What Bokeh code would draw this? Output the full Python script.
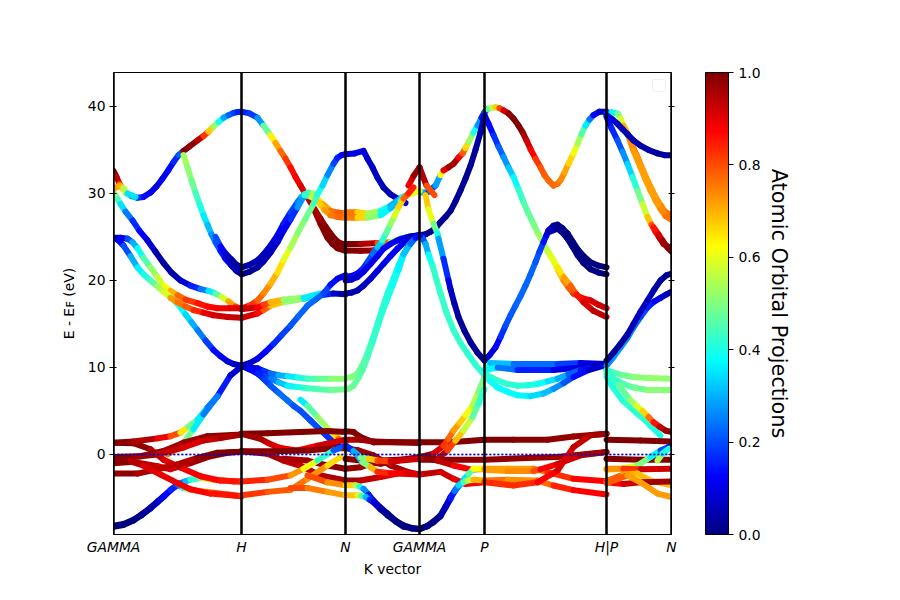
from bokeh.embed import file_html
from bokeh.models import (BoxAnnotation, ColorBar, ColumnDataSource, FixedTicker,
                          LinearAxis, LinearColorMapper, Range1d, Span)
from bokeh.plotting import figure
from bokeh.resources import INLINE

# ---- axis values -------------------------------------------------------
k_ticks = [0, 128, 232, 306, 371, 493, 558]
k_labels = ["GAMMA", "H", "N", "GAMMA", "P", "H|P", "N"]
e_ticks = [0, 10, 20, 30, 40]
cbar_ticks = [0.0, 0.2, 0.4, 0.6, 0.8, 1.0]

# ---- GAMMA -> H --------------------------------------------------------
gh01_k = [0, 3, 6, 9, 13, 18, 24, 30, 37, 43, 49, 55, 60, 65, 70]
gh01_e = [32.6, 31.9, 31.1, 30.5, 30.0, 29.7, 29.5, 29.6, 30.1, 30.8, 31.7, 32.7, 33.6, 34.4, 34.9]
gh01_p = [1.0, 0.97, 0.9, 0.75, 0.5, 0.3, 0.2, 0.15, 0.12, 0.1, 0.1, 0.12, 0.15, 0.18, 0.25]
gh02_k = [70, 76, 84, 90, 95, 100, 105, 110, 115, 120, 124, 128]
gh02_e = [34.9, 35.4, 36.1, 36.6, 37.1, 37.7, 38.2, 38.7, 39.0, 39.25, 39.35, 39.4]
gh02_p = [1.0, 1.0, 0.98, 0.9, 0.75, 0.6, 0.45, 0.33, 0.25, 0.2, 0.17, 0.15]
gh03_k = [1, 4, 7, 12, 19, 26, 34, 42, 50, 58, 67, 77, 87, 95, 102, 108, 115, 122, 128]
gh03_e = [30.0, 29.4, 28.8, 27.9, 26.9, 25.7, 24.6, 23.3, 22.0, 20.9, 20.0, 19.4, 19.0, 18.8, 18.5, 18.1, 17.6, 17.0, 16.7]
gh03_p = [0.55, 0.48, 0.4, 0.3, 0.2, 0.14, 0.1, 0.06, 0.03, 0.03, 0.05, 0.12, 0.2, 0.3, 0.42, 0.52, 0.65, 0.78, 0.85]
gh04_k = [1, 6, 10, 14, 22]
gh04_e = [30.6, 30.9, 30.6, 30.0, 29.6]
gh04_p = [0.7, 0.75, 0.65, 0.45, 0.25]
gh05_k = [70, 74, 78, 82, 86, 90, 94, 98, 102, 107, 112, 118, 123, 127]
gh05_e = [34.4, 33.0, 31.5, 30.1, 28.8, 27.5, 26.4, 25.3, 24.4, 23.4, 22.5, 21.7, 21.1, 20.8]
gh05_p = [0.55, 0.53, 0.5, 0.46, 0.42, 0.38, 0.34, 0.29, 0.25, 0.18, 0.12, 0.08, 0.05, 0.05]
gh06_k = [102, 107, 112, 118, 123, 128]
gh06_e = [25.0, 23.9, 23.1, 22.4, 21.8, 21.5]
gh06_p = [0.25, 0.15, 0.1, 0.05, 0.03, 0.03]
gh07_k = [1, 7, 14, 19, 24, 30, 37, 44, 50, 57, 64, 72, 84, 94, 104, 116, 128]
gh07_e = [24.9, 24.9, 24.8, 24.4, 23.7, 22.6, 21.5, 20.4, 19.4, 18.8, 18.3, 17.8, 17.4, 17.0, 16.8, 16.8, 16.8]
gh07_p = [0.05, 0.08, 0.15, 0.25, 0.35, 0.42, 0.5, 0.55, 0.6, 0.66, 0.75, 0.8, 0.85, 0.87, 0.88, 0.9, 0.9]
gh08_k = [1, 5, 10, 17, 24, 30, 37, 44, 50, 57, 62, 67, 72, 78, 84, 92, 100, 107, 114, 120, 128]
gh08_e = [24.9, 24.6, 24.0, 22.8, 21.5, 20.7, 20.0, 19.3, 18.7, 18.1, 17.5, 16.9, 16.1, 15.2, 14.3, 13.1, 12.0, 11.3, 10.7, 10.4, 10.2]
gh08_p = [0.05, 0.1, 0.15, 0.25, 0.35, 0.38, 0.42, 0.5, 0.58, 0.6, 0.5, 0.4, 0.36, 0.32, 0.28, 0.22, 0.15, 0.12, 0.1, 0.07, 0.05]
gh09_k = [57, 64, 72, 80, 90, 100, 114, 128]
gh09_e = [18.0, 17.5, 17.0, 16.6, 16.3, 16.0, 15.8, 15.7]
gh09_p = [0.7, 0.75, 0.78, 0.8, 0.88, 0.92, 0.93, 0.93]
gh10_k = [0, 10, 20, 28, 37, 44, 50, 58, 67, 72, 77, 87, 94, 100, 110, 120, 128]
gh10_e = [-8.2, -8.0, -7.5, -6.9, -6.1, -5.4, -4.8, -4.0, -3.3, -3.1, -2.9, -2.7, -2.8, -2.9, -3.0, -3.1, -3.1]
gh10_p = [0.0, 0.0, 0.0, 0.02, 0.03, 0.06, 0.1, 0.15, 0.2, 0.27, 0.35, 0.5, 0.6, 0.7, 0.75, 0.8, 0.82]
gh11_k = [0, 10, 20, 28, 37, 44, 50, 57, 64, 69, 74, 80, 87, 94, 100, 114, 128]
gh11_e = [-8.3, -8.1, -7.6, -7.0, -6.2, -5.5, -4.9, -4.1, -3.45, -3.8, -4.0, -4.1, -4.2, -4.3, -4.4, -4.6, -4.8]
gh11_p = [0.0, 0.0, 0.0, 0.02, 0.03, 0.06, 0.1, 0.14, 0.18, 0.33, 0.5, 0.58, 0.65, 0.72, 0.78, 0.82, 0.85]
gh12_k = [0, 20, 37, 50, 67, 87, 107, 128]
gh12_e = [1.35, 1.3, 0.6, -0.6, -1.5, -2.5, -3.0, -3.1]
gh12_p = [1.0, 1.0, 0.98, 0.92, 0.9, 0.88, 0.87, 0.85]
gh13_k = [0, 20, 44, 57, 67, 75, 84, 94, 104, 117, 128]
gh13_e = [1.35, 1.5, 1.85, 2.1, 2.5, 3.2, 4.0, 5.4, 6.7, 9.1, 10.1]
gh13_p = [1.0, 0.98, 0.93, 0.85, 0.75, 0.55, 0.42, 0.3, 0.2, 0.1, 0.05]
gh14_k = [54, 62, 70, 80, 90, 104]
gh14_e = [0.0, 0.55, 1.35, 2.9, 4.6, 6.7]
gh14_p = [0.8, 0.7, 0.55, 0.42, 0.3, 0.2]
gh15_k = [0, 27, 50, 70, 94, 128]
gh15_e = [-0.3, -0.2, 0.4, 1.35, 2.1, 2.3]
gh15_p = [1.0, 1.0, 0.97, 0.97, 0.98, 1.0]
gh16_k = [0, 20, 44, 70, 90, 107, 128]
gh16_e = [-0.6, -0.3, 0.0, 0.8, 1.6, 1.9, 2.3]
gh16_p = [1.0, 0.98, 0.96, 0.9, 0.92, 0.95, 0.97]
gh17_k = [0, 20, 44, 57, 77, 97, 114, 128]
gh17_e = [-1.0, -0.85, -1.35, -1.7, -1.0, -0.2, 0.2, 0.3]
gh17_p = [1.0, 0.97, 0.93, 0.9, 0.95, 1.0, 1.0, 1.0]
gh18_k = [0, 24, 44, 64, 84, 104, 128]
gh18_e = [-2.2, -2.2, -1.7, -1.15, -0.4, 0.2, 0.3]
gh18_p = [1.0, 0.97, 0.95, 0.93, 0.98, 1.0, 1.0]
gh19_k = [0, 17, 30, 47, 64, 77, 97, 128]
gh19_e = [-0.6, -0.8, -1.3, -2.3, -3.3, -4.0, -4.5, -4.8]
gh19_p = [1.0, 0.98, 0.92, 0.9, 0.9, 0.88, 0.87, 0.85]

# ---- H -> N ------------------------------------------------------------
hn01_k = [128, 136, 144, 150, 157, 162, 167, 172, 177, 182, 187, 192, 197, 202, 207, 212, 217, 221, 225, 229, 232]
hn01_e = [39.4, 39.2, 38.7, 37.8, 36.7, 35.8, 34.9, 34.0, 33.0, 31.9, 30.9, 29.9, 29.0, 28.0, 27.1, 26.2, 25.4, 24.8, 24.4, 24.2, 24.1]
hn01_p = [0.15, 0.17, 0.2, 0.35, 0.6, 0.68, 0.75, 0.8, 0.85, 0.88, 0.9, 0.92, 0.93, 0.95, 0.97, 0.99, 1.0, 1.0, 1.0, 1.0, 1.0]
hn02_k = [200, 207, 214, 219, 224, 232]
hn02_e = [28.3, 26.5, 24.9, 24.2, 23.7, 23.4]
hn02_p = [0.95, 0.98, 1.0, 1.0, 1.0, 1.0]
hn03_k = [128, 136, 144, 150, 157, 164, 170, 177, 184, 188, 191, 195, 199, 204, 209, 217, 224, 232]
hn03_e = [21.5, 21.8, 22.3, 23.0, 24.0, 25.2, 26.5, 27.8, 29.0, 29.6, 29.9, 30.1, 30.0, 29.4, 28.8, 28.0, 27.8, 27.7]
hn03_p = [0.03, 0.04, 0.05, 0.06, 0.08, 0.1, 0.13, 0.17, 0.22, 0.28, 0.35, 0.42, 0.5, 0.6, 0.68, 0.75, 0.78, 0.8]
hn04_k = [128, 136, 144, 150, 157, 164, 170, 177, 184, 191, 198, 205, 211, 217, 224, 232]
hn04_e = [20.7, 21.0, 21.5, 22.2, 23.2, 24.4, 25.7, 27.0, 28.4, 29.8, 29.6, 29.0, 28.1, 27.5, 27.3, 27.2]
hn04_p = [0.0, 0.01, 0.03, 0.04, 0.06, 0.08, 0.1, 0.14, 0.2, 0.35, 0.5, 0.65, 0.7, 0.75, 0.77, 0.78]
hn05_k = [128, 136, 144, 150, 157, 164, 170, 177, 184, 192, 200, 204, 209, 214, 220, 224, 228, 232]
hn05_e = [16.8, 17.1, 17.7, 18.5, 19.6, 20.9, 22.3, 23.8, 25.4, 27.1, 28.8, 29.9, 30.9, 32.1, 33.4, 34.1, 34.4, 34.5]
hn05_p = [0.9, 0.85, 0.8, 0.76, 0.72, 0.68, 0.63, 0.57, 0.52, 0.5, 0.47, 0.42, 0.38, 0.3, 0.22, 0.17, 0.14, 0.12]
hn06_k = [128, 144, 150, 157, 170, 190, 207, 220, 232]
hn06_e = [15.7, 16.2, 16.6, 17.1, 17.5, 17.9, 18.3, 18.5, 18.4]
hn06_p = [0.93, 0.9, 0.83, 0.75, 0.62, 0.42, 0.25, 0.08, 0.05]
hn07_k = [128, 144, 150, 157, 170, 190, 207]
hn07_e = [16.7, 16.9, 17.2, 17.5, 17.8, 18.0, 18.5]
hn07_p = [0.95, 0.9, 0.85, 0.78, 0.62, 0.42, 0.3]
hn08_k = [128, 136, 144, 152, 160, 168, 177, 185, 194, 202, 210, 217, 224, 228, 232]
hn08_e = [10.2, 10.5, 11.0, 11.8, 12.7, 13.7, 14.8, 15.9, 17.1, 17.8, 18.5, 19.5, 20.2, 20.4, 20.6]
hn08_p = [0.05, 0.07, 0.1, 0.12, 0.15, 0.18, 0.2, 0.22, 0.23, 0.23, 0.22, 0.17, 0.12, 0.11, 0.1]
hn09_k = [128, 136, 144, 150, 157, 165, 174, 184, 194, 205, 217, 232]
hn09_e = [10.2, 10.0, 9.9, 9.6, 9.3, 9.1, 9.0, 8.85, 8.7, 8.7, 8.7, 8.7]
hn09_p = [0.05, 0.07, 0.1, 0.15, 0.2, 0.27, 0.33, 0.38, 0.43, 0.46, 0.5, 0.52]
hn10_k = [128, 136, 144, 150, 157, 165, 174, 184, 194, 205, 217, 232]
hn10_e = [10.2, 9.8, 9.4, 9.0, 8.7, 8.3, 7.9, 7.75, 7.6, 7.5, 7.4, 7.5]
hn10_p = [0.05, 0.08, 0.12, 0.17, 0.22, 0.28, 0.35, 0.39, 0.43, 0.45, 0.47, 0.5]
hn11_k = [128, 136, 144, 150, 157, 165, 174, 180, 187, 197, 207, 220, 232]
hn11_e = [10.2, 9.8, 9.3, 8.7, 7.9, 7.1, 6.2, 5.6, 5.0, 3.9, 2.8, 1.4, 1.0]
hn11_p = [0.05, 0.1, 0.15, 0.17, 0.2, 0.22, 0.25, 0.22, 0.2, 0.2, 0.2, 0.15, 0.1]
hn12_k = [187, 194, 204, 214, 220, 225, 232]
hn12_e = [6.3, 5.6, 4.3, 3.0, 2.4, 1.8, 1.3]
hn12_p = [0.3, 0.42, 0.5, 0.55, 0.62, 0.7, 0.85]
hn13_k = [128, 154, 187, 214, 232]
hn13_e = [2.37, 2.45, 2.57, 2.7, 2.57]
hn13_p = [1.0, 1.0, 1.0, 1.0, 1.0]
hn14_k = [128, 147, 155, 164, 174, 184, 204, 232]
hn14_e = [2.37, 1.8, 1.3, 0.85, 0.6, 0.46, 1.0, 1.7]
hn14_p = [0.98, 0.97, 0.94, 0.9, 0.89, 0.88, 0.9, 0.95]
hn15_k = [128, 160, 194, 220, 232]
hn15_e = [0.37, 0.37, 0.46, 0.7, 0.7]
hn15_p = [1.0, 1.0, 1.0, 0.98, 1.0]
hn16_k = [128, 154, 170, 187, 207, 232]
hn16_e = [0.37, 0.07, -0.7, -1.3, -2.4, -3.0]
hn16_p = [1.0, 0.98, 0.95, 0.93, 0.95, 0.97]
hn17_k = [170, 194, 214, 232]
hn17_e = [-0.5, -0.7, -1.27, -1.65]
hn17_p = [0.95, 0.97, 0.98, 1.0]
hn18_k = [128, 154, 177, 190, 204, 220, 232]
hn18_e = [-3.1, -2.9, -2.4, -1.65, -0.7, 0.46, 1.0]
hn18_p = [0.85, 0.83, 0.78, 0.68, 0.55, 0.3, 0.12]
hn19_k = [128, 154, 177, 194, 214, 227]
hn19_e = [-4.7, -4.3, -4.05, -2.8, -1.27, -0.3]
hn19_p = [0.85, 0.8, 0.78, 0.75, 0.72, 0.6]
hn20_k = [177, 194, 214, 232]
hn20_e = [-3.85, -3.85, -4.3, -4.7]
hn20_p = [0.83, 0.78, 0.73, 0.72]
hn21_k = [194, 214, 232]
hn21_e = [-2.4, -3.2, -3.55]
hn21_p = [0.85, 0.75, 0.72]

# ---- N -> GAMMA --------------------------------------------------------
ng01_k = [232, 241, 250, 254, 259, 264, 270, 277, 284, 292]
ng01_e = [34.5, 34.6, 34.9, 34.0, 33.0, 31.8, 30.7, 29.9, 29.4, 28.9]
ng01_p = [0.12, 0.11, 0.1, 0.08, 0.07, 0.06, 0.05, 0.05, 0.05, 0.12]
ng02_k = [295, 300, 306]
ng02_e = [30.9, 32.0, 33.0]
ng02_p = [0.85, 0.95, 1.0]
ng03_k = [232, 244, 254, 267, 277, 289, 299, 306]
ng03_e = [27.85, 27.85, 27.7, 28.0, 28.6, 29.6, 30.15, 30.3]
ng03_p = [0.8, 0.72, 0.62, 0.45, 0.33, 0.28, 0.5, 0.7]
ng04_k = [232, 244, 254, 267, 277, 287, 294, 306]
ng04_e = [27.2, 27.2, 27.2, 27.5, 28.3, 29.2, 29.8, 30.3]
ng04_p = [0.78, 0.72, 0.62, 0.42, 0.32, 0.3, 0.5, 0.7]
ng05_k = [232, 247, 264, 277, 287, 297, 306]
ng05_e = [24.2, 24.2, 24.3, 24.4, 24.8, 25.05, 25.2]
ng05_p = [1.0, 1.0, 0.9, 0.7, 0.4, 0.12, 0.03]
ng06_k = [232, 247, 260, 269, 277]
ng06_e = [23.45, 23.4, 23.45, 23.9, 24.2]
ng06_p = [1.0, 1.0, 0.97, 0.85, 0.7]
ng07_k = [232, 238, 244, 249, 254, 259, 264, 269, 273, 277, 281, 285, 290, 295, 300]
ng07_e = [20.4, 20.5, 20.8, 21.3, 22.1, 23.0, 23.8, 24.6, 25.5, 26.5, 27.4, 28.4, 29.4, 30.0, 30.7]
ng07_p = [0.1, 0.11, 0.12, 0.15, 0.18, 0.22, 0.25, 0.4, 0.45, 0.5, 0.56, 0.62, 0.72, 0.85, 0.85]
ng08_k = [232, 238, 244, 250, 257, 264, 270, 277, 284, 290, 295, 300, 306]
ng08_e = [18.5, 18.6, 18.85, 19.4, 20.2, 21.1, 21.9, 22.8, 23.65, 24.3, 24.8, 25.05, 25.2]
ng08_p = [0.05, 0.05, 0.05, 0.06, 0.08, 0.09, 0.1, 0.11, 0.12, 0.11, 0.1, 0.06, 0.03]
ng09_k = [232, 238, 244, 250, 257, 264, 270, 277, 284, 295, 306]
ng09_e = [20.0, 20.1, 20.4, 21.0, 21.9, 22.8, 23.65, 24.2, 24.6, 25.0, 25.2]
ng09_p = [0.08, 0.08, 0.08, 0.09, 0.1, 0.11, 0.12, 0.12, 0.12, 0.08, 0.05]
ng10_k = [232, 238, 244, 249, 254, 259, 264, 269, 274, 280, 285, 290, 295, 300, 306]
ng10_e = [8.78, 8.9, 9.3, 10.3, 11.6, 13.2, 15.0, 16.8, 18.5, 20.2, 21.7, 23.0, 24.0, 24.7, 25.2]
ng10_p = [0.52, 0.51, 0.5, 0.47, 0.45, 0.44, 0.43, 0.42, 0.42, 0.4, 0.38, 0.35, 0.3, 0.2, 0.1]
ng11_k = [232, 236, 240, 245, 249, 254, 259, 264, 269, 274, 279, 285, 290, 297, 302, 306]
ng11_e = [7.4, 7.6, 7.9, 8.8, 9.7, 11.2, 12.9, 14.7, 16.4, 17.9, 19.4, 21.2, 23.0, 24.2, 24.9, 25.2]
ng11_p = [0.5, 0.49, 0.48, 0.47, 0.47, 0.45, 0.43, 0.42, 0.42, 0.41, 0.4, 0.38, 0.35, 0.28, 0.18, 0.1]
ng12_k = [232, 240, 247, 260, 306]
ng12_e = [2.68, 2.57, 2.0, 1.4, 1.4]
ng12_p = [1.0, 1.0, 1.0, 1.0, 0.99]
ng13_k = [232, 247, 260, 306]
ng13_e = [1.7, 1.7, 1.5, 1.33]
ng13_p = [0.95, 0.97, 0.98, 1.0]
ng14_k = [232, 244, 260, 277, 294, 306]
ng14_e = [0.7, 0.5, -0.1, -1.27, -2.0, -2.3]
ng14_p = [1.0, 0.98, 0.97, 0.97, 0.95, 0.95]
ng15_k = [232, 247, 267, 284, 306]
ng15_e = [-0.5, -0.7, -1.07, -0.7, -0.3]
ng15_p = [1.0, 0.98, 0.97, 0.97, 1.0]
ng16_k = [232, 247, 267, 306]
ng16_e = [-1.65, -1.46, -0.7, -0.5]
ng16_p = [1.0, 0.97, 0.98, 1.0]
ng17_k = [232, 247, 267, 284, 306]
ng17_e = [-3.0, -3.0, -2.6, -2.2, -2.3]
ng17_p = [1.0, 0.95, 0.92, 0.9, 0.92]
ng18_k = [232, 237, 244, 249, 257, 264, 277, 294, 306]
ng18_e = [1.0, 0.65, -0.1, -0.9, -1.46, -2.0, -2.15, -2.15, -2.3]
ng18_p = [0.12, 0.15, 0.25, 0.4, 0.6, 0.8, 0.88, 0.9, 0.92]
ng19_k = [232, 240, 247, 255, 264, 277, 306]
ng19_e = [1.0, 0.4, -0.3, -0.5, -0.7, -0.8, -0.5]
ng19_p = [0.12, 0.2, 0.4, 0.6, 0.75, 0.88, 0.97]
ng20_k = [232, 242, 246, 250, 255, 260, 267, 274, 282, 290, 298, 306]
ng20_e = [-3.55, -3.55, -3.7, -3.95, -4.6, -5.3, -6.1, -6.8, -7.6, -8.15, -8.45, -8.55]
ng20_p = [0.72, 0.62, 0.48, 0.32, 0.2, 0.1, 0.05, 0.02, 0.01, 0.0, 0.0, 0.0]
ng21_k = [232, 244, 248, 252, 256, 260, 267, 274, 282, 290, 298, 306]
ng21_e = [-4.7, -4.7, -4.75, -4.9, -5.2, -5.5, -6.3, -7.0, -7.7, -8.3, -8.5, -8.6]
ng21_p = [0.72, 0.65, 0.52, 0.4, 0.22, 0.1, 0.05, 0.02, 0.01, 0.0, 0.0, 0.0]

# ---- GAMMA -> P --------------------------------------------------------
gp01_k = [306, 309, 315, 322, 327, 330, 335, 340, 345, 349, 352, 355, 360, 364, 368, 371]
gp01_e = [30.3, 30.1, 30.2, 30.9, 32.1, 32.65, 33.0, 33.4, 34.1, 34.6, 35.2, 35.9, 37.0, 37.8, 38.7, 39.35]
gp01_p = [0.7, 0.4, 0.2, 0.18, 0.4, 0.85, 0.95, 1.0, 0.92, 0.85, 0.72, 0.6, 0.45, 0.35, 0.2, 0.1]
gp02_k = [306, 313, 321]
gp02_e = [33.0, 30.9, 29.8]
gp02_p = [1.0, 0.9, 0.7]
gp03_k = [306, 312, 317, 322, 327, 332, 337, 342, 347, 352, 357, 362, 367, 371]
gp03_e = [25.2, 25.3, 25.6, 26.0, 26.7, 27.3, 28.0, 29.1, 30.35, 31.7, 33.2, 35.0, 37.0, 39.0]
gp03_p = [0.02, 0.02, 0.02, 0.02, 0.02, 0.02, 0.02, 0.02, 0.02, 0.02, 0.02, 0.03, 0.04, 0.06]
gp04_k = [312, 315, 320, 324, 325, 330, 335, 337, 341, 345, 351, 357, 364, 371]
gp04_e = [29.8, 28.2, 26.5, 25.4, 24.8, 22.5, 20.0, 19.0, 17.3, 15.8, 14.2, 12.9, 11.7, 10.8]
gp04_p = [0.7, 0.65, 0.55, 0.42, 0.35, 0.22, 0.12, 0.08, 0.05, 0.03, 0.02, 0.02, 0.02, 0.02]
gp05_k = [306, 309, 312, 315, 319, 323, 327, 333, 340, 347, 354, 362, 371]
gp05_e = [25.2, 24.9, 24.2, 23.0, 21.7, 20.1, 18.5, 16.3, 14.3, 12.8, 11.6, 10.3, 9.1]
gp05_p = [0.1, 0.17, 0.25, 0.35, 0.42, 0.43, 0.43, 0.43, 0.43, 0.43, 0.42, 0.42, 0.42]
gp06_k = [306, 337, 371]
gp06_e = [1.4, 1.4, 1.7]
gp06_p = [1.0, 1.0, 1.0]
gp07_k = [306, 320, 330, 335, 340, 346, 352, 359, 365, 371]
gp07_e = [-0.3, 0.1, 1.0, 1.8, 2.75, 3.6, 4.5, 5.6, 7.2, 8.9]
gp07_p = [1.0, 0.98, 0.85, 0.8, 0.75, 0.7, 0.65, 0.58, 0.52, 0.47]
gp08_k = [306, 324, 334, 342, 350, 359, 365, 371]
gp08_e = [-0.5, -0.5, 0.46, 1.6, 2.75, 4.3, 5.8, 7.5]
gp08_p = [1.0, 0.98, 0.88, 0.75, 0.62, 0.52, 0.42, 0.42]
gp09_k = [306, 371]
gp09_e = [-0.6, -0.6]
gp09_p = [1.0, 0.98]
gp10_k = [306, 324, 340, 359, 371]
gp10_e = [-0.3, -0.7, -1.27, -1.77, -1.65]
gp10_p = [1.0, 0.97, 0.92, 0.85, 0.72]
gp11_k = [306, 327, 340, 352, 371]
gp11_e = [-2.3, -2.0, -2.8, -3.4, -3.2]
gp11_p = [0.92, 0.95, 0.9, 0.9, 0.85]
gp12_k = [306, 314, 320, 327, 332, 337, 342, 347, 351, 355, 360, 371]
gp12_e = [-8.55, -8.2, -7.7, -7.0, -6.0, -4.9, -4.1, -3.4, -2.8, -2.25, -1.65, -1.65]
gp12_p = [0.0, 0.0, 0.01, 0.02, 0.05, 0.1, 0.17, 0.25, 0.32, 0.38, 0.55, 0.7]
gp13_k = [306, 314, 320, 327, 332, 337, 341, 345, 350, 354, 360, 371]
gp13_e = [-8.6, -8.25, -7.8, -7.1, -6.1, -5.1, -4.2, -3.55, -3.2, -3.0, -2.9, -3.0]
gp13_p = [0.0, 0.0, 0.01, 0.02, 0.05, 0.1, 0.2, 0.28, 0.4, 0.5, 0.62, 0.78]

# ---- P -> H ------------------------------------------------------------
ph01_k = [371, 374, 378, 382, 386, 390, 395, 400, 405, 409, 413, 417, 422, 427, 431, 435, 440, 444, 447, 451, 455, 460, 464, 468, 472, 476, 480, 486, 493]
ph01_e = [39.35, 39.7, 39.85, 39.9, 39.8, 39.55, 39.2, 38.6, 37.8, 37.05, 36.1, 35.1, 34.0, 33.0, 32.1, 31.5, 30.9, 31.1, 31.5, 32.4, 33.4, 34.6, 35.7, 36.8, 37.8, 38.5, 39.0, 39.4, 39.4]
ph01_p = [0.02, 0.4, 0.52, 0.6, 0.75, 0.88, 0.97, 1.0, 1.0, 1.0, 0.95, 0.9, 0.85, 0.8, 0.79, 0.78, 0.78, 0.77, 0.76, 0.73, 0.7, 0.64, 0.58, 0.5, 0.42, 0.3, 0.18, 0.08, 0.05]
ph02_k = [371, 375, 380, 385, 390, 395, 400, 405, 410, 415, 420, 425, 430, 435, 440, 445, 450, 455, 460, 468, 477, 485, 493]
ph02_e = [39.0, 38.0, 36.7, 35.4, 34.2, 33.0, 31.9, 30.5, 29.0, 27.7, 26.5, 25.3, 24.2, 23.2, 22.3, 21.1, 20.0, 19.2, 18.5, 18.0, 17.7, 17.2, 16.8]
ph02_p = [0.1, 0.12, 0.15, 0.2, 0.25, 0.3, 0.35, 0.4, 0.45, 0.47, 0.48, 0.52, 0.55, 0.58, 0.62, 0.67, 0.72, 0.77, 0.82, 0.87, 0.9, 0.92, 0.93]
ph03_k = [430, 437, 444, 450, 457, 463, 470, 480, 493]
ph03_e = [24.2, 22.8, 21.5, 20.4, 19.4, 18.4, 17.5, 16.5, 15.8]
ph03_p = [0.55, 0.58, 0.62, 0.68, 0.75, 0.82, 0.9, 0.93, 0.95]
ph04_k = [371, 376, 382, 387, 392, 397, 402, 407, 412, 417, 422, 426, 430, 433, 435, 440, 444, 449, 454, 459, 464, 470, 477, 485, 493]
ph04_e = [10.8, 11.4, 12.3, 13.5, 14.8, 16.0, 17.1, 18.2, 19.4, 20.7, 22.1, 23.3, 24.4, 25.2, 25.75, 26.3, 26.4, 26.0, 25.4, 24.5, 23.6, 22.8, 22.1, 21.7, 21.5]
ph04_p = [0.05, 0.07, 0.1, 0.15, 0.2, 0.21, 0.22, 0.23, 0.23, 0.23, 0.22, 0.2, 0.17, 0.12, 0.08, 0.04, 0.02, 0.01, 0.0, 0.0, 0.0, 0.0, 0.0, 0.0, 0.0]
ph05_k = [435, 444, 449, 454, 459, 464, 470, 477, 485, 493]
ph05_e = [25.55, 25.95, 25.5, 24.8, 23.9, 22.9, 22.0, 21.3, 20.9, 20.7]
ph05_p = [0.1, 0.02, 0.0, 0.0, 0.0, 0.0, 0.0, 0.0, 0.0, 0.0]
ph06_k = [371, 377, 400, 444, 467, 493]
ph06_e = [9.7, 10.5, 10.4, 10.4, 10.5, 10.4]
ph06_p = [0.45, 0.38, 0.25, 0.22, 0.15, 0.05]
ph07_k = [371, 384, 404, 440, 467, 493]
ph07_e = [9.7, 10.0, 9.7, 9.7, 10.0, 10.4]
ph07_p = [0.45, 0.3, 0.18, 0.13, 0.08, 0.05]
ph08_k = [371, 377, 384, 394, 404, 414, 424, 434, 444, 455, 467, 480, 493]
ph08_e = [9.3, 8.9, 8.5, 8.1, 7.9, 7.95, 8.1, 8.4, 8.7, 9.2, 9.7, 10.1, 10.3]
ph08_p = [0.42, 0.42, 0.42, 0.42, 0.42, 0.41, 0.4, 0.37, 0.33, 0.26, 0.18, 0.1, 0.05]
ph09_k = [371, 377, 384, 394, 404, 417, 430, 440, 450, 460, 475, 493]
ph09_e = [9.1, 8.4, 7.7, 7.2, 6.8, 6.7, 7.0, 7.55, 8.2, 8.9, 9.7, 10.3]
ph09_p = [0.42, 0.4, 0.38, 0.38, 0.38, 0.36, 0.33, 0.3, 0.24, 0.18, 0.1, 0.05]
ph10_k = [371, 400, 434, 460, 493]
ph10_e = [1.7, 1.7, 1.7, 2.06, 2.37]
ph10_p = [1.0, 1.0, 0.99, 0.98, 0.98]
ph11_k = [371, 414, 444, 493]
ph11_e = [-0.6, -0.4, -0.3, 0.27]
ph11_p = [0.98, 0.99, 0.97, 0.98]
ph12_k = [371, 394, 420, 434, 460, 493]
ph12_e = [-1.65, -1.65, -1.65, -2.03, -2.8, -3.07]
ph12_p = [0.72, 0.72, 0.72, 0.8, 0.87, 0.88]
ph13_k = [371, 394, 420, 427, 444, 467, 493]
ph13_e = [-1.77, -1.9, -1.9, -1.7, -1.1, -0.1, 0.27]
ph13_p = [0.72, 0.73, 0.75, 0.85, 0.9, 0.95, 0.98]
ph14_k = [371, 394, 424, 440, 460, 493]
ph14_e = [-3.0, -2.9, -3.0, -3.57, -4.1, -4.6]
ph14_p = [0.78, 0.75, 0.72, 0.82, 0.87, 0.88]
ph15_k = [371, 400, 424, 444, 460, 477, 493]
ph15_e = [-3.2, -3.57, -3.2, -1.85, 0.84, 2.2, 2.37]
ph15_p = [0.85, 0.82, 0.85, 0.9, 0.92, 0.95, 0.98]

# ---- P -> N ------------------------------------------------------------
pn01_k = [493, 498, 504, 507, 510, 515, 520, 524, 529, 534, 539, 544, 548, 552, 558]
pn01_e = [39.2, 39.3, 39.2, 38.6, 37.8, 36.7, 35.2, 34.2, 32.8, 31.5, 30.3, 29.2, 28.5, 27.85, 27.5]
pn01_p = [0.1, 0.3, 0.45, 0.55, 0.62, 0.78, 0.76, 0.75, 0.73, 0.72, 0.72, 0.72, 0.74, 0.75, 0.78]
pn02_k = [514, 520, 527, 532, 537, 542, 547, 552, 558]
pn02_e = [36.9, 34.9, 33.0, 31.6, 30.35, 29.2, 28.2, 27.4, 27.0]
pn02_p = [0.75, 0.73, 0.72, 0.72, 0.72, 0.72, 0.73, 0.75, 0.78]
pn03_k = [493, 499, 504, 509, 514, 520, 527, 535, 544, 551, 558]
pn03_e = [39.0, 38.5, 38.0, 37.4, 36.8, 36.1, 35.5, 35.0, 34.6, 34.4, 34.4]
pn03_p = [0.1, 0.09, 0.08, 0.06, 0.05, 0.05, 0.05, 0.04, 0.04, 0.03, 0.03]
pn04_k = [493, 498, 504, 509, 514, 519, 524, 529, 534, 538, 542, 546, 550, 554, 558]
pn04_e = [38.8, 37.5, 36.1, 34.8, 33.4, 31.9, 30.35, 28.8, 27.3, 26.4, 25.6, 24.9, 24.2, 23.9, 23.8]
pn04_p = [0.12, 0.15, 0.18, 0.24, 0.3, 0.38, 0.45, 0.53, 0.62, 0.75, 0.85, 0.93, 0.98, 1.0, 1.0]
pn05_k = [540, 545, 549, 554, 558]
pn05_e = [26.1, 25.3, 24.6, 23.8, 23.3]
pn05_p = [0.82, 0.9, 0.95, 0.98, 1.0]
pn06_k = [493, 500, 507, 514, 520, 527, 534, 541, 547, 553, 558]
pn06_e = [10.2, 11.2, 12.3, 13.4, 14.6, 15.8, 16.9, 17.6, 18.0, 18.4, 18.7]
pn06_p = [0.25, 0.27, 0.28, 0.27, 0.25, 0.22, 0.18, 0.14, 0.1, 0.07, 0.05]
pn07_k = [493, 500, 507, 514, 520, 527, 534, 541, 547, 553, 558]
pn07_e = [10.8, 11.7, 12.7, 13.8, 15.0, 16.4, 17.7, 19.0, 20.0, 20.6, 20.8]
pn07_p = [0.02, 0.02, 0.03, 0.04, 0.05, 0.06, 0.07, 0.05, 0.03, 0.02, 0.02]
pn08_k = [493, 500, 510, 520, 534, 558]
pn08_e = [9.7, 9.4, 9.1, 8.9, 8.8, 8.7]
pn08_p = [0.38, 0.43, 0.48, 0.5, 0.52, 0.52]
pn09_k = [493, 500, 510, 520, 534, 558]
pn09_e = [9.3, 8.7, 8.1, 7.7, 7.4, 7.4]
pn09_p = [0.4, 0.42, 0.45, 0.47, 0.5, 0.52]
pn10_k = [493, 500, 509, 517, 524, 531, 537, 547]
pn10_e = [8.9, 7.6, 6.2, 5.4, 4.67, 4.0, 3.3, 2.2]
pn10_p = [0.4, 0.41, 0.42, 0.42, 0.42, 0.42, 0.42, 0.38]
pn11_k = [493, 505, 517, 523, 529, 535, 540, 546, 552, 558]
pn11_e = [9.7, 8.0, 6.2, 5.6, 5.0, 4.3, 3.7, 3.2, 2.75, 2.57]
pn11_p = [0.4, 0.45, 0.5, 0.56, 0.62, 0.72, 0.82, 0.9, 0.97, 1.0]
pn12_k = [493, 527, 558]
pn12_e = [1.7, 1.6, 1.5]
pn12_p = [1.0, 1.0, 1.0]
pn13_k = [493, 527, 558]
pn13_e = [-0.5, -0.6, -0.6]
pn13_p = [1.0, 1.0, 1.0]
pn14_k = [493, 507, 524, 537, 547, 555, 558]
pn14_e = [-1.77, -1.65, -1.27, -0.3, 0.46, 0.84, 0.84]
pn14_p = [0.72, 0.65, 0.55, 0.45, 0.3, 0.1, 0.05]
pn15_k = [493, 510, 527, 558]
pn15_e = [-1.65, -1.65, -1.7, -1.65]
pn15_p = [0.72, 0.75, 0.9, 0.95]
pn16_k = [493, 510, 524, 537, 558]
pn16_e = [-3.07, -2.3, -2.2, -3.0, -3.55]
pn16_p = [0.85, 0.72, 0.7, 0.68, 0.7]
pn17_k = [493, 510, 527, 558]
pn17_e = [-3.2, -3.4, -3.2, -3.1]
pn17_p = [0.85, 0.9, 0.95, 0.98]
pn18_k = [493, 514, 527, 544, 558]
pn18_e = [-3.3, -2.4, -3.2, -4.5, -4.9]
pn18_p = [0.85, 0.72, 0.72, 0.73, 0.72]
pn19_k = [544, 549, 555]
pn19_e = [-0.7, 0.08, 0.65]
pn19_p = [0.6, 0.5, 0.3]


def jet(t):
    def c(x):
        return max(0.0, min(1.0, x))
    r = c(1.5 - abs(4 * t - 3))
    g = c(1.5 - abs(4 * t - 2))
    b = c(1.5 - abs(4 * t - 1))
    return "#%02x%02x%02x" % (round(r * 255), round(g * 255), round(b * 255))


JET = [jet(i / 255) for i in range(256)]

names = sorted(n[:-2] for n in list(globals()) if n.endswith("_k") and n[:2] in ("gh", "hn", "ng", "gp", "ph", "pn"))
xs, ys, cols = [], [], []
for n in names:
    k, e, q = globals()[n + "_k"], globals()[n + "_e"], globals()[n + "_p"]
    for i in range(len(k) - 1):
        xs.append([k[i], k[i + 1]])
        ys.append([e[i], e[i + 1]])
        cols.append(JET[min(255, int(255 * (q[i] + q[i + 1]) / 2))])

p = figure(width=890, height=590, output_backend="svg", toolbar_location=None,
           x_range=Range1d(0, 558), y_range=Range1d(-9.2, 43.9),
           min_border_left=113, min_border_right=219, min_border_top=72, min_border_bottom=56)
p.grid.visible = False
p.outline_line_color = "black"
p.outline_line_width = 1
p.background_fill_color = "white"

p.multi_line(xs="xs", ys="ys", line_color="c", line_width=6, line_cap="round",
             source=ColumnDataSource(dict(xs=xs, ys=ys, c=cols)))

p.add_layout(Span(location=0, dimension="width", line_color="black", line_dash="1 3", line_width=1.5))
p.add_layout(Span(location=0, dimension="width", line_color="#0000ff", line_dash="2 2", line_width=1.5))
for t in k_ticks:
    p.add_layout(Span(location=t, dimension="height", line_color="black", line_width=2.5))

p.xaxis.ticker = FixedTicker(ticks=k_ticks)
p.xaxis.major_label_overrides = {t: l for t, l in zip(k_ticks, k_labels)}
p.xaxis.major_label_text_font_style = "italic"
p.xaxis.major_tick_line_color = None
p.xaxis.major_tick_out = 0
p.xaxis.major_tick_in = 0
p.xaxis.minor_tick_line_color = None
p.xaxis.axis_line_color = "black"
p.xaxis.axis_label = "K vector"
p.xaxis.major_label_standoff = 4

p.yaxis.ticker = FixedTicker(ticks=e_ticks)
p.yaxis.minor_tick_line_color = None
p.yaxis.major_tick_out = 4
p.yaxis.major_tick_in = 3
p.yaxis.major_label_standoff = 4
p.yaxis.axis_label = "E - E\ua730 (eV)"
p.yaxis.axis_label_standoff = 8

right_axis = LinearAxis(ticker=FixedTicker(ticks=e_ticks),
                        major_label_overrides={t: "" for t in e_ticks},
                        major_tick_out=3, major_tick_in=3, minor_tick_line_color=None,
                        axis_label="Atomic Orbital Projections", axis_label_standoff=92,
                        axis_label_text_font="DejaVu Sans", axis_label_text_font_size="20.8px",
                        axis_label_text_font_style="normal", axis_label_text_color="black")
p.add_layout(right_axis, "right")

for ax in [p.xaxis[0], p.yaxis[0]]:
    ax.major_label_text_font = "DejaVu Sans"
    ax.major_label_text_font_size = "13.9px"
    ax.major_label_text_color = "black"
    ax.axis_label_text_font = "DejaVu Sans"
    ax.axis_label_text_font_size = "13.9px"
    ax.axis_label_text_font_style = "normal"
    ax.axis_label_text_color = "black"
p.xaxis.axis_label_standoff = 3

mapper = LinearColorMapper(palette=JET, low=0, high=1)
cb = ColorBar(color_mapper=mapper, width=23, height=462, location=(592, 0), margin=0, padding=0,
              ticker=FixedTicker(ticks=cbar_ticks), major_label_text_font="DejaVu Sans",
              major_label_text_font_size="13.9px", major_label_text_color="black",
              major_tick_line_color="black",
              major_tick_out=5, major_tick_in=0, bar_line_color="black",
              minor_tick_line_color=None, major_label_overrides={0.0: "0.0", 1.0: "1.0"},
              label_standoff=5)
p.add_layout(cb, "center")

box = BoxAnnotation(left=652, right=665, top=79, bottom=91, left_units="canvas", right_units="canvas",
                    top_units="canvas", bottom_units="canvas", fill_color="white", fill_alpha=1,
                    line_color="#cccccc", line_width=1, border_radius=2, level="overlay")
p.add_layout(box)

open("out.html", "w").write(file_html(p, INLINE))
